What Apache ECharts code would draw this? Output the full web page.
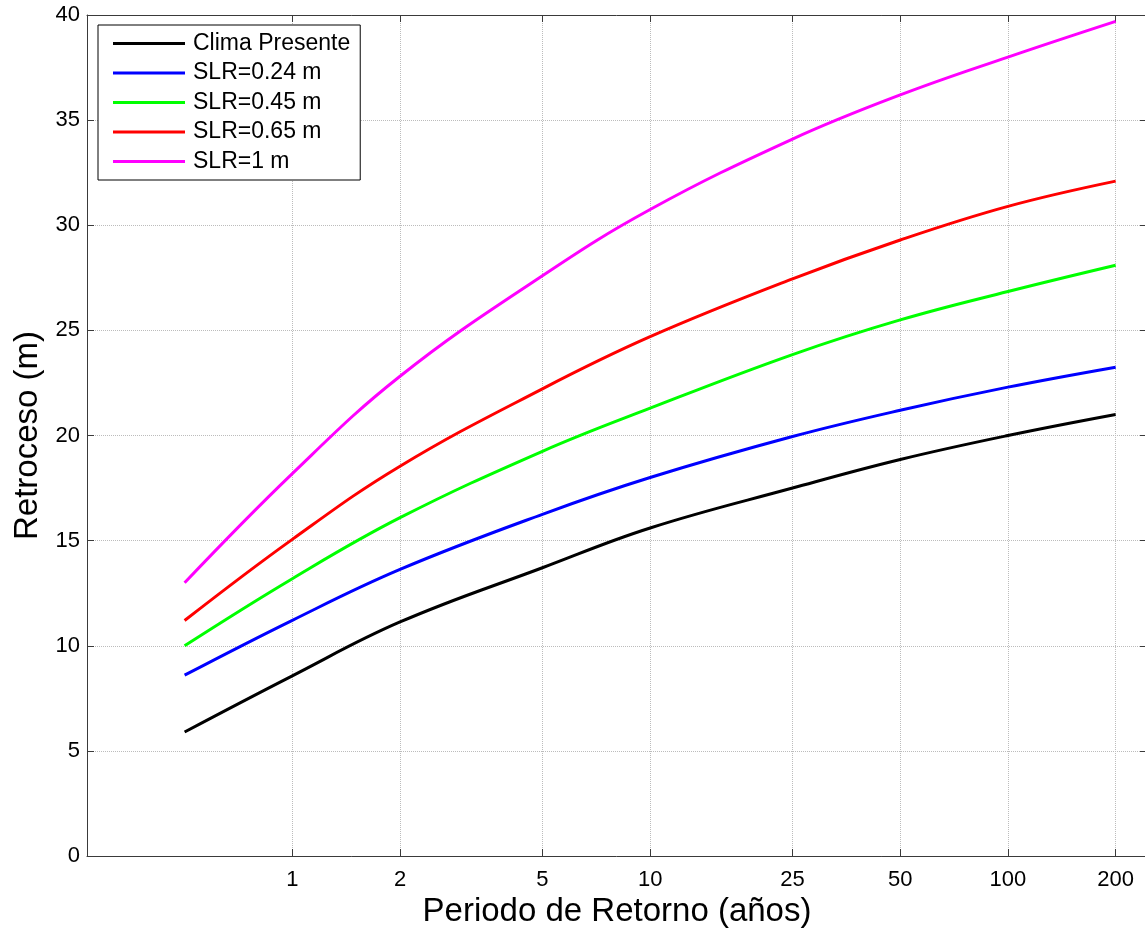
<!DOCTYPE html>
<html>
<head>
<meta charset="utf-8">
<script src="https://cdn.jsdelivr.net/npm/echarts@6/dist/echarts.min.js"></script>
<style>
html,body{margin:0;padding:0;background:#fff;}
#c{width:1145px;height:928px;}
</style>
</head>
<body>
<div id="c"></div>
<script>
// Return periods (years)
const periods = [0.5, 1, 2, 5, 10, 25, 50, 100, 200];
// Retroceso (m) for each scenario
const climaPresente = [5.9, 8.57, 11.13, 13.71, 15.6, 17.5, 18.86, 20.0, 21.0];
const slr024 = [8.6, 11.21, 13.63, 16.25, 18.0, 19.95, 21.2, 22.3, 23.25];
const slr045 = [10.0, 13.19, 16.09, 19.25, 21.3, 23.85, 25.5, 26.85, 28.1];
const slr065 = [11.2, 15.06, 18.54, 22.22, 24.7, 27.45, 29.3, 30.9, 32.1];
const slr100 = [13.0, 18.19, 22.82, 27.6, 30.75, 34.1, 36.2, 38.0, 39.7];

const seriesNames = ['Clima Presente', 'SLR=0.24 m', 'SLR=0.45 m', 'SLR=0.65 m', 'SLR=1 m'];
const seriesValues = [climaPresente, slr024, slr045, slr065, slr100];
const seriesColors = ['#000000', '#0000ff', '#00ff00', '#ff0000', '#ff00ff'];

// Axis ticks
const xTicks = [1, 2, 5, 10, 25, 50, 100, 200];
const xMin = 0.2668, xMax = 244.7;
const yMin = 0, yMax = 40, yStep = 5;

const FONT = "'Liberation Sans', Arial, Helvetica, sans-serif";
const axisCol = '#3a3a3a';

const chart = echarts.init(document.getElementById('c'), null, {renderer: 'canvas'});

const baseXAxis = {
  type: 'log', logBase: 10, min: xMin, max: xMax,
  axisLine: {show: true, onZero: false, lineStyle: {color: axisCol, width: 1}},
  axisTick: {show: true, inside: true, length: 7, customValues: xTicks, lineStyle: {color: axisCol, width: 1}},
  minorTick: {show: false},
  minorSplitLine: {show: false}
};
const baseYAxis = {
  type: 'value', min: yMin, max: yMax, interval: yStep,
  axisLine: {show: true, onZero: false, lineStyle: {color: axisCol, width: 1}},
  axisTick: {show: true, inside: true, length: 7, lineStyle: {color: axisCol, width: 1}}
};

const option = {
  animation: false,
  backgroundColor: '#ffffff',
  grid: {left: 87, right: -2, top: 15, bottom: 72, containLabel: false, outerBoundsMode: 'none'},
  xAxis: [
    Object.assign({}, baseXAxis, {
      position: 'bottom',
      name: 'Periodo de Retorno (años)',
      nameLocation: 'middle',
      nameGap: 39,
      nameTextStyle: {fontSize: 33, fontFamily: FONT, color: '#000'},
      axisLabel: {show: true, customValues: xTicks, fontSize: 22, fontFamily: FONT, color: '#000', margin: 13,
        formatter: v => String(Math.round(v))},
      splitLine: {show: true, lineStyle: {type: 'dotted', color: '#bcbcbc', width: 1}}
    }),
    Object.assign({}, baseXAxis, {
      position: 'top',
      axisLabel: {show: false},
      splitLine: {show: false}
    })
  ],
  yAxis: [
    Object.assign({}, baseYAxis, {
      position: 'left',
      name: 'Retroceso (m)',
      nameLocation: 'middle',
      nameGap: 43,
      nameTextStyle: {fontSize: 33, fontFamily: FONT, color: '#000'},
      axisLabel: {show: true, fontSize: 22, fontFamily: FONT, color: '#000', margin: 7},
      splitLine: {show: true, lineStyle: {type: 'dotted', color: '#bcbcbc', width: 1}}
    }),
    Object.assign({}, baseYAxis, {
      position: 'right',
      axisLabel: {show: false},
      splitLine: {show: false}
    })
  ],
  legend: {
    show: true,
    orient: 'vertical',
    left: 98,
    top: 25,
    backgroundColor: '#ffffff',
    borderColor: '#000000',
    borderWidth: 1,
    padding: [7, 10, 7, 15],
    itemWidth: 72,
    itemHeight: 3,
    itemGap: 6.5,
    icon: 'rect',
    selectedMode: false,
    textStyle: {fontSize: 23, lineHeight: 22, fontFamily: FONT, color: '#000', padding: [0, 0, 0, 3]},
    data: seriesNames
  },
  series: seriesNames.map((name, i) => ({
    name: name,
    type: 'line',
    xAxisIndex: 0,
    yAxisIndex: 0,
    symbol: 'none',
    showSymbol: false,
    smooth: 0.4,
    color: seriesColors[i],
    lineStyle: {color: seriesColors[i], width: 3},
    z: 3 + i,
    data: periods.map((t, j) => [t, seriesValues[i][j]])
  }))
};

chart.setOption(option);
</script>
</body>
</html>
